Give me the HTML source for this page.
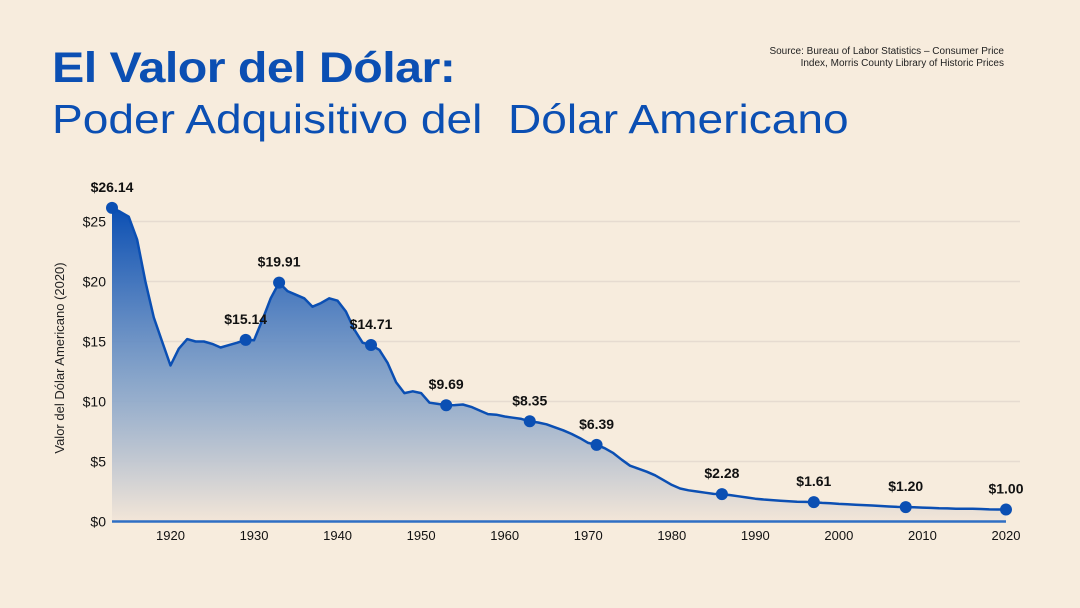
<!DOCTYPE html>
<html><head><meta charset="utf-8">
<style>
html,body{margin:0;padding:0;background:#f7ecdd;}
body{width:1080px;height:608px;position:relative;overflow:hidden;font-family:"Liberation Sans",sans-serif;}
.t1{position:absolute;left:52px;top:44px;font-size:43px;font-weight:bold;color:#0b4fb3;letter-spacing:-0.5px;margin:0;transform:scaleX(1.125);transform-origin:left top;white-space:nowrap}
.t2{position:absolute;left:52px;top:96px;font-size:41px;color:#0b4fb3;margin:0;transform:scaleX(1.124);transform-origin:left top;white-space:nowrap}
.src{position:absolute;right:76px;top:46px;font-size:10px;color:#222;text-align:right;line-height:12px}
svg{position:absolute;left:0;top:0}
</style></head><body>
<h1 class="t1">El Valor del Dólar:</h1>
<h2 class="t2" style="font-weight:normal">Poder Adquisitivo del&nbsp; Dólar Americano</h2>
<div class="src">Source: Bureau of Labor Statistics – Consumer Price<br>Index, Morris County Library of Historic Prices</div>
<svg id="chart" width="1080" height="608">
<defs><linearGradient id="g" x1="0" y1="0" x2="0" y2="1">
<stop offset="0" stop-color="#0b4fb3"/><stop offset="0.55" stop-color="#7d9ec8" stop-opacity="0.9"/><stop offset="1" stop-color="#f3e6d8"/>
</linearGradient></defs>
</svg>
<script>
const years=[1913,1914,1915,1916,1917,1918,1919,1920,1921,1922,1923,1924,1925,1926,1927,1928,1929,1930,1931,1932,1933,1934,1935,1936,1937,1938,1939,1940,1941,1942,1943,1944,1945,1946,1947,1948,1949,1950,1951,1952,1953,1954,1955,1956,1957,1958,1959,1960,1961,1962,1963,1964,1965,1966,1967,1968,1969,1970,1971,1972,1973,1974,1975,1976,1977,1978,1979,1980,1981,1982,1983,1984,1985,1986,1987,1988,1989,1990,1991,1992,1993,1994,1995,1996,1997,1998,1999,2000,2001,2002,2003,2004,2005,2006,2007,2008,2009,2010,2011,2012,2013,2014,2015,2016,2017,2018,2019,2020];
const values=[26.14,25.8,25.4,23.5,20.0,17.0,15.0,13.0,14.4,15.2,15.0,15.0,14.8,14.5,14.7,14.9,15.14,15.1,16.8,18.6,19.91,19.2,18.9,18.6,17.9,18.2,18.6,18.4,17.5,16.0,14.9,14.71,14.3,13.2,11.6,10.7,10.85,10.7,9.9,9.8,9.69,9.7,9.75,9.55,9.25,8.95,8.9,8.75,8.65,8.55,8.35,8.25,8.1,7.85,7.6,7.3,6.95,6.55,6.39,6.1,5.7,5.15,4.65,4.4,4.15,3.85,3.45,3.05,2.75,2.6,2.5,2.4,2.3,2.28,2.2,2.1,2.0,1.9,1.83,1.78,1.73,1.69,1.65,1.63,1.61,1.55,1.52,1.47,1.43,1.4,1.37,1.33,1.29,1.25,1.22,1.20,1.19,1.16,1.13,1.1,1.09,1.07,1.07,1.06,1.04,1.01,1.0,1.0];
const labelYears=[1913,1929,1933,1944,1953,1963,1971,1986,1997,2008,2020];
const labelTexts=["$26.14","$15.14","$19.91","$14.71","$9.69","$8.35","$6.39","$2.28","$1.61","$1.20","$1.00"];
const yTicks=[0,5,10,15,20,25];
const yTickLabels=["$0","$5","$10","$15","$20","$25"];
const xTicks=[1920,1930,1940,1950,1960,1970,1980,1990,2000,2010,2020];

const svg=document.getElementById('chart');
const NS='http://www.w3.org/2000/svg';
const X=y=>112+(y-1913)*8.355;
const Y=v=>521.5-v*12;
function mk(t,a,txt){const e=document.createElementNS(NS,t);for(const k in a)e.setAttribute(k,a[k]);if(txt!==undefined)e.textContent=txt;svg.appendChild(e);return e;}

yTicks.forEach((v,i)=>{
  if(v>0){const g=mk('line',{x1:X(1913),x2:1020,y1:Y(v),y2:Y(v),stroke:'#e6dbd0','stroke-width':1.5});
  
  }
  const t=mk('text',{x:106,y:Y(v)+5,'text-anchor':'end','font-size':14,fill:'#111','font-family':'Liberation Sans, sans-serif'},yTickLabels[i]);
  
  
});
xTicks.forEach(y=>{
  const t=mk('text',{x:X(y),y:540,'text-anchor':'middle','font-size':13,fill:'#111','font-family':'Liberation Sans, sans-serif'},String(y));
  
  
});
const yt=mk('text',{x:0,y:0,transform:'translate(64,358) rotate(-90)','text-anchor':'middle','font-size':13,fill:'#222','font-family':'Liberation Sans, sans-serif'},'Valor del Dólar Americano (2020)');



let d='';
years.forEach((y,i)=>{d+=(i?'L':'M')+X(y).toFixed(1)+','+Y(values[i]).toFixed(1);});
const area=mk('path',{d:d+'L'+X(2020)+','+Y(0)+'L'+X(1913)+','+Y(0)+'Z',fill:'url(#g)'});


const base=mk('line',{x1:X(1913),x2:X(2020),y1:Y(0),y2:Y(0),stroke:'#2f6fc4','stroke-width':2.5});


const line=mk('path',{d:d,fill:'none',stroke:'#0b4fb3','stroke-width':2.5,'stroke-linejoin':'round'});



labelYears.forEach((y,i)=>{
  const v=values[years.indexOf(y)];
  const c=mk('circle',{cx:X(y),cy:Y(v),r:6,fill:'#0b4fb3'});
  
  
  const t=mk('text',{x:X(y),y:Y(v)-16,'text-anchor':'middle','font-size':14,'font-weight':'bold',fill:'#111','font-family':'Liberation Sans, sans-serif'},labelTexts[i]);
  
  
});
</script>
</body></html>
